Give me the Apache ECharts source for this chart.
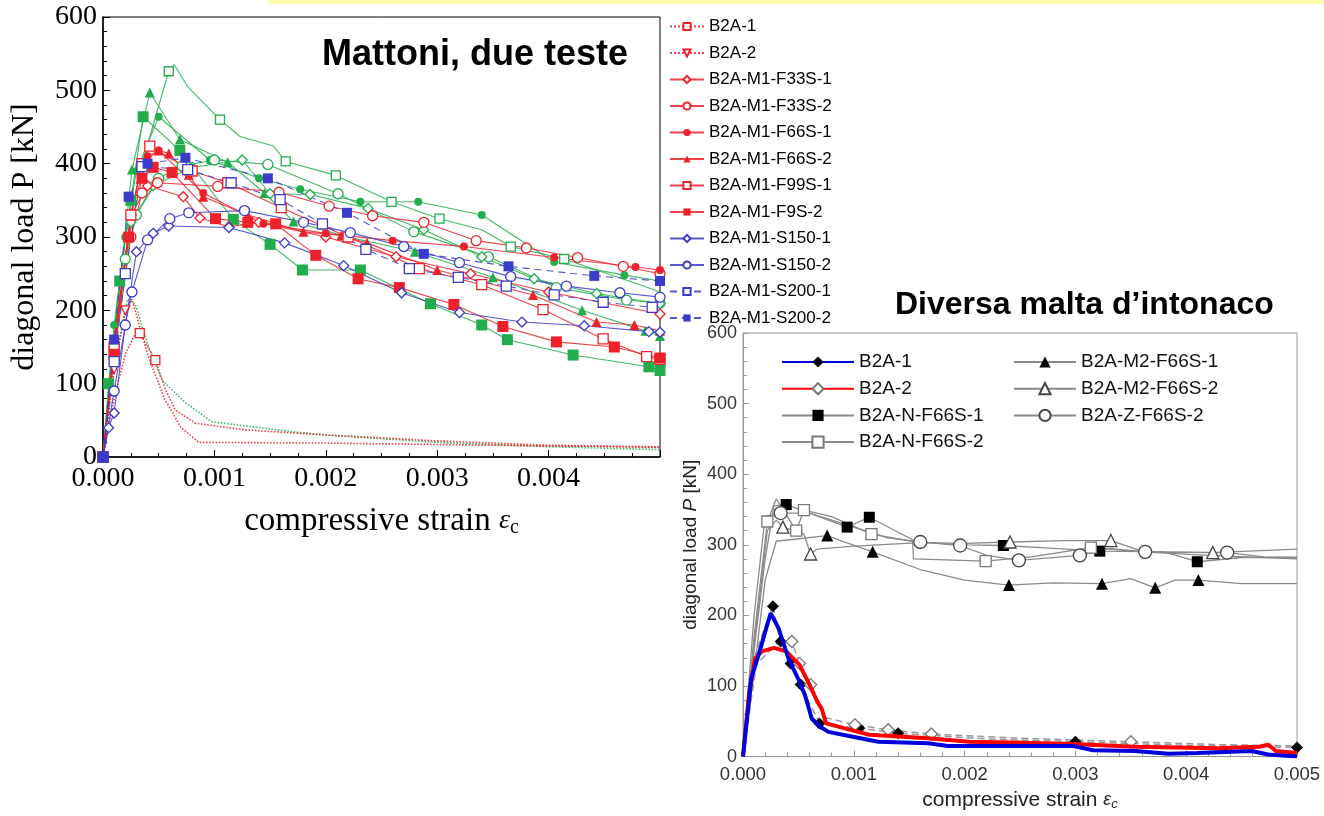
<!DOCTYPE html>
<html>
<head>
<meta charset="utf-8">
<script src="https://cdn.jsdelivr.net/npm/echarts@6/dist/echarts.min.js"></script>
<style>
html, body { margin: 0; background: #fff; }
#chart { width: 1324px; height: 816px; }
</style>
</head>
<body>
<div id="chart"></div>
<script>
// strain is stored in units of 0.001, load in kN
var xTicks = [0, 1, 2, 3, 4, 5];

// left chart: "Mattoni, due teste"
var b2a1 = [[0,0],[0.1,80],[0.2,140],[0.28,165],[0.33,169],[0.47,132],[0.56,92],[0.65,64],[0.83,46],[1.28,37],[2,30],[3,22],[4,16],[5,13]];
var b2a2 = [[0,0],[0.1,120],[0.2,200],[0.26,215],[0.4,140],[0.55,80],[0.7,40],[0.86,20],[2,19],[3,17],[4,15],[5,14]];
var greenDot = [[0,0],[0.1,120],[0.22,215],[0.29,208],[0.41,150],[0.53,105],[0.74,74],[0.98,48],[1.73,34],[2,30],[3,20],[4,14],[5,10]];
var f33s1 = [[0,0],[0.1,150],[0.25,330],[0.4,370],[0.72,355],[0.87,326],[1.13,314],[1.4,320],[2,300],[2.63,273],[3.3,250],[4,225],[5,195]];
var f33s2 = [[0,0],[0.1,140],[0.25,300],[0.35,360],[0.49,374],[1.03,369],[1.58,361],[2.03,342],[2.42,329],[2.88,320],[3.35,295],[3.8,285],[4.26,272],[4.67,260],[5,250]];
var f66s1 = [[0,0],[0.1,160],[0.25,330],[0.4,410],[0.5,418],[0.9,360],[1.44,318],[2,305],[2.6,295],[3.24,287],[4.05,272],[4.78,259],[5,255]];
var f66s2 = [[0,0],[0.1,150],[0.25,330],[0.35,400],[0.5,418],[0.59,414],[0.77,385],[0.9,355],[1.3,330],[1.8,307],[2.14,302],[2.37,292],[3,255],[3.86,221],[4.43,184],[4.77,180],[5,172]];
var f99s1 = [[0,0],[0.1,150],[0.25,330],[0.35,400],[0.42,424],[0.8,390],[1.12,374],[1.6,340],[2.2,300],[2.84,257],[3.4,235],[3.95,201],[4.49,161],[4.88,137],[5,133]];
var f9s2 = [[0,0],[0.1,140],[0.23,300],[0.35,380],[0.45,395],[0.62,388],[1.01,325],[1.3,320],[1.55,318],[1.91,275],[2.29,243],[2.66,231],[3.15,208],[3.59,178],[4.07,157],[4.59,150],[5,135]];
var s150a = [[0,0],[0.05,40],[0.1,60],[0.2,180],[0.3,280],[0.45,305],[0.59,315],[1.13,313],[1.63,292],[2.16,261],[2.68,224],[3.2,197],[3.76,184],[4.32,179],[4.9,171],[5,170]];
var s150b = [[0,0],[0.1,90],[0.2,180],[0.26,225],[0.4,296],[0.6,325],[0.77,333],[1.27,336],[1.8,320],[2.22,306],[2.7,287],[3.2,265],[3.66,246],[4.16,233],[4.64,224],[5,218]];
var s200a = [[0,0],[0.1,130],[0.2,250],[0.35,396],[0.76,392],[1.15,374],[1.59,351],[1.97,318],[2.36,283],[2.75,257],[3.19,245],[3.62,233],[4.05,221],[4.49,211],[4.93,204]];
var s200b = [[0,0],[0.1,160],[0.23,355],[0.4,400],[0.74,408],[1.48,380],[2.19,333],[2.88,277],[3.64,260],[4.41,247],[5,240]];
var g1 = [[0,0],[0.1,150],[0.2,300],[0.36,405],[0.59,526],[0.64,535],[0.76,505],[1.05,460],[1.23,437],[1.53,424],[1.64,403],[2.09,384],[2.59,348],[3.02,325],[3.4,310],[3.66,287],[4.14,270],[4.84,234],[5,225]];
var g2 = [[0,0],[0.1,160],[0.26,392],[0.42,497],[0.69,433],[1.12,402],[1.45,360],[1.71,321],[2.2,300],[2.8,280],[3.5,245],[4.3,200],[4.87,172],[5,165]];
var g3 = [[0,0],[0.05,100],[0.15,240],[0.25,350],[0.36,464],[0.69,418],[1.17,324],[1.5,290],[1.79,255],[2.31,255],[2.94,209],[3.4,180],[3.63,160],[4.22,139],[4.9,123],[5,118]];
var g4 = [[0,0],[0.1,180],[0.2,300],[0.3,390],[0.5,464],[0.96,405],[1.4,380],[1.77,365],[2.31,348],[2.83,348],[3.4,330],[4.05,266],[4.68,248],[5,240]];
var g5 = [[0,0],[0.1,150],[0.2,270],[0.3,330],[0.5,380],[0.71,397],[1,405],[1.48,399],[2.11,359],[2.79,307],[3.46,273],[4.07,231],[4.7,214],[5,210]];
var g6 = [[0,0],[0.1,150],[0.25,320],[0.45,370],[0.8,395],[1.25,405],[1.5,359],[1.86,358],[2.38,339],[2.88,310],[3.4,273],[3.87,243],[4.43,223],[5,209]];

// right chart: "Diversa malta d'intonaco"
var rB2a1 = [[0,0],[0.075,111],[0.15,149],[0.21,182],[0.25,203],[0.32,182],[0.41,139],[0.51,106],[0.56,87],[0.62,54],[0.69,43],[0.77,35],[0.99,28],[1.22,21],[1.67,19],[1.85,15],[2.98,15],[3.16,9],[3.54,8],[3.84,4],[4.1,5],[4.59,8],[4.74,3],[5,0]];
var rB2a2 = [[0,0],[0.056,92],[0.11,139],[0.17,149],[0.28,154],[0.39,149],[0.51,130],[0.6,102],[0.67,78],[0.71,68],[0.75,47],[0.92,40],[1.14,31],[1.67,26],[2.04,21],[2.42,20],[2.98,18],[3.54,14],[4.29,12],[4.66,14],[4.74,17],[4.81,8],[5,5]];
var rB2a1Ref = [[0,0],[0.12,150],[0.27,213],[0.34,163],[0.43,132],[0.52,102],[0.69,47],[1.05,40],[1.4,33],[2.2,25],[3,21],[4,16],[5,13]];
var rB2a2Ref = [[0,0],[0.12,130],[0.3,160],[0.44,163],[0.51,132],[0.61,102],[0.75,55],[1.01,45],[1.31,38],[1.7,32],[2.5,26],[3.5,21],[4.3,17],[5,15]];
var nF1 = [[0,0],[0.1,150],[0.2,280],[0.28,355],[0.39,357],[0.6,345],[0.94,325],[1.14,339],[1.57,304],[2,300],[2.35,299],[2.8,295],[3.22,291],[3.8,290],[4.1,276],[4.5,282],[5,282]];
var nF2 = [[0,0],[0.1,170],[0.22,333],[0.3,365],[0.48,320],[0.55,349],[0.8,340],[1.16,315],[1.53,305],[1.54,280],[2.19,277],[2.6,283],[3.14,296],[3.6,290],[4.2,285],[5,280]];
var m2F1 = [[0,0],[0.1,120],[0.2,250],[0.3,305],[0.76,313],[0.9,305],[1.17,290],[1.6,265],[2,250],[2.4,243],[2.8,246],[3.24,245],[3.5,252],[3.72,239],[3.9,250],[4.11,250],[4.5,245],[5,245]];
var m2F2 = [[0,0],[0.1,160],[0.22,320],[0.3,335],[0.36,325],[0.55,315],[0.61,287],[0.67,294],[1,298],[1.6,303],[2,302],[2.41,304],[2.9,306],[3.32,306],[3.62,290],[4.24,289],[5,294]];
var zF2 = [[0,0],[0.1,200],[0.2,340],[0.34,345],[0.6,345],[1,325],[1.3,310],[1.6,304],[1.96,299],[2.2,285],[2.49,278],[3.04,285],[3.3,295],[3.63,290],[4.37,289],[4.7,283],[5,282]];

var leftNames = ['B2A-1', 'B2A-2', 'B2A-M1-F33S-1', 'B2A-M1-F33S-2', 'B2A-M1-F66S-1', 'B2A-M1-F66S-2',
  'B2A-M1-F99S-1', 'B2A-M1-F9S-2', 'B2A-M1-S150-1', 'B2A-M1-S150-2', 'B2A-M1-S200-1', 'B2A-M1-S200-2'];
var rightNames1 = ['B2A-1', 'B2A-2', 'B2A-N-F66S-1', 'B2A-N-F66S-2'];
var rightNames2 = ['B2A-M2-F66S-1', 'B2A-M2-F66S-2', 'B2A-Z-F66S-2'];

// right-chart series get a prefix so they do not clash with the left legend names
var RP = 'dx:';
function rn(n) { return RP + n; }
function stripRP(n) { return n.indexOf(RP) === 0 ? n.slice(RP.length) : n; }

var RED = '#ee2029', BLUE = '#3b3bcc', GREEN = '#22ad4c', GREY = '#8a8a8a';
var SERIF = '"Liberation Serif", "Times New Roman", serif';
var SANS = '"Liberation Sans", Arial, sans-serif';

function mk(data, o) {
  var mc = o.mc || o.c;
  return {
    name: o.name, type: 'line', data: data,
    xAxisIndex: o.g, yAxisIndex: o.g,
    symbol: o.sym, symbolRotate: o.rot || 0,
    symbolSize: o.marks ? function (v, p) { return o.marks.indexOf(p.dataIndex) >= 0 ? o.size : 0; } : o.size,
    itemStyle: o.hollow ? { color: '#fff', borderColor: mc, borderWidth: 1.3 } : { color: mc, borderWidth: 0 },
    lineStyle: { color: o.c, width: o.w || 1.1, type: o.dash || 'solid', opacity: o.op || 0.85 },
    emphasis: { disabled: true },
    z: o.z || 2
  };
}

var series = [
  mk(g1, { g: 0, c: GREEN, sym: 'rect', hollow: true, size: 9, marks: [4, 7, 10, 11, 12, 13, 15, 16] }),
  mk(g2, { g: 0, c: GREEN, sym: 'triangle', size: 10 }),
  mk(g3, { g: 0, c: GREEN, sym: 'rect', size: 11 }),
  mk(g4, { g: 0, c: GREEN, sym: 'circle', size: 8 }),
  mk(g5, { g: 0, c: GREEN, sym: 'circle', hollow: true, size: 10 }),
  mk(g6, { g: 0, c: GREEN, sym: 'diamond', hollow: true, size: 10 }),
  mk(greenDot, { g: 0, c: GREEN, sym: 'none', dash: 'dotted', w: 1.6, size: 0 }),
  mk(b2a1, { g: 0, name: leftNames[0], c: RED, sym: 'rect', hollow: true, size: 9, dash: 'dotted', w: 1.6, marks: [4, 5] }),
  mk(b2a2, { g: 0, name: leftNames[1], c: RED, sym: 'triangle', rot: 180, hollow: true, size: 9, dash: 'dotted', w: 1.6, marks: [1, 2] }),
  mk(f33s1, { g: 0, name: leftNames[2], c: RED, sym: 'diamond', hollow: true, size: 10 }),
  mk(f33s2, { g: 0, name: leftNames[3], c: RED, sym: 'circle', hollow: true, size: 10 }),
  mk(f66s1, { g: 0, name: leftNames[4], c: RED, sym: 'circle', size: 8 }),
  mk(f66s2, { g: 0, name: leftNames[5], c: RED, sym: 'triangle', size: 10 }),
  mk(f99s1, { g: 0, name: leftNames[6], c: RED, sym: 'rect', hollow: true, size: 10 }),
  mk(f9s2, { g: 0, name: leftNames[7], c: RED, sym: 'rect', size: 11 }),
  mk(s150a, { g: 0, name: leftNames[8], c: BLUE, sym: 'diamond', hollow: true, size: 10 }),
  mk(s150b, { g: 0, name: leftNames[9], c: BLUE, sym: 'circle', hollow: true, size: 10 }),
  mk(s200a, { g: 0, name: leftNames[10], c: BLUE, sym: 'rect', hollow: true, size: 10, dash: [7, 5] }),
  mk(s200b, { g: 0, name: leftNames[11], c: BLUE, sym: 'rect', size: 10, dash: [7, 5] }),

  mk(nF1, { g: 1, name: rn(rightNames1[2]), c: GREY, mc: '#000', sym: 'rect', size: 11, w: 1.3, op: 1, marks: [4, 6, 7, 10, 12, 14] }),
  mk(nF2, { g: 1, name: rn(rightNames1[3]), c: GREY, mc: '#777', sym: 'rect', hollow: true, size: 11, w: 1.3, op: 1, marks: [2, 4, 5, 7, 10, 12] }),
  mk(m2F1, { g: 1, name: rn(rightNames2[0]), c: GREY, mc: '#000', sym: 'triangle', size: 12, w: 1.3, op: 1, marks: [4, 6, 9, 11, 13, 15] }),
  mk(m2F2, { g: 1, name: rn(rightNames2[1]), c: GREY, mc: '#444', sym: 'triangle', hollow: true, size: 12, w: 1.3, op: 1, marks: [4, 6, 11, 13, 15] }),
  mk(zF2, { g: 1, name: rn(rightNames2[2]), c: GREY, mc: '#444', sym: 'circle', hollow: true, size: 13, w: 1.3, op: 1, marks: [3, 7, 8, 10, 11, 13, 14] }),
  mk(rB2a1Ref, { g: 1, c: '#999', mc: '#000', sym: 'diamond', size: 12, dash: [7, 4], w: 1.5, op: 1, marks: [2, 3, 4, 5, 6, 7, 8, 10, 12] }),
  mk(rB2a2Ref, { g: 1, c: '#999', mc: '#777', sym: 'diamond', hollow: true, size: 12, dash: [7, 4], w: 1.5, op: 1, marks: [3, 4, 5, 7, 8, 9, 11] }),
  mk(rB2a2, { g: 1, name: rn(rightNames1[1]), c: '#ff0000', mc: '#777', sym: 'diamond', hollow: true, size: 12, w: 4, op: 1, marks: [], z: 4 }),
  mk(rB2a1, { g: 1, name: rn(rightNames1[0]), c: '#0000dd', mc: '#000', sym: 'diamond', size: 12, w: 4, op: 1, marks: [], z: 5 })
];

function xFmt(showLast) {
  return function (v) { return (!showLast && v >= 5) ? '' : (v / 1000).toFixed(3); };
}

var chart = echarts.init(document.getElementById('chart'), null, { renderer: 'canvas' });
chart.setOption({
  animation: false,
  backgroundColor: '#fff',
  title: [
    { text: 'Mattoni, due teste', left: 317, top: 32, textStyle: { fontFamily: SANS, fontWeight: 'bold', fontSize: 36, color: '#000' } },
    { text: 'Diversa malta d\u2019intonaco', left: 890, top: 284, textStyle: { fontFamily: SANS, fontWeight: 'bold', fontSize: 32, color: '#000' } }
  ],
  graphic: [
    { type: 'rect', left: 268, top: 0, shape: { width: 1056, height: 4 }, style: { fill: '#fffbb0' }, z: -1 }
  ],
  legend: [
    {
      data: leftNames, orient: 'vertical', left: 664, top: 12, itemWidth: 34, itemHeight: 9, itemGap: 7.5,
      selectedMode: false, textStyle: { fontFamily: SANS, fontSize: 17, color: '#000', lineHeight: 19 }
    },
    {
      data: rightNames1.map(rn), formatter: stripRP, orient: 'vertical', left: 776, top: 347, itemWidth: 72, itemHeight: 14, itemGap: 6.7,
      selectedMode: false, textStyle: { fontFamily: SANS, fontSize: 19, color: '#111', lineHeight: 20 }
    },
    {
      data: rightNames2.map(rn), formatter: stripRP, orient: 'vertical', left: 1008, top: 347, itemWidth: 62, itemHeight: 14, itemGap: 6.7,
      selectedMode: false, textStyle: { fontFamily: SANS, fontSize: 19, color: '#111', lineHeight: 20 }
    }
  ],
  grid: [
    { left: 103, top: 17, width: 557, height: 440, show: true, borderColor: '#000', borderWidth: 1 },
    { left: 743, top: 333, width: 554, height: 426, show: true, borderColor: '#999', borderWidth: 1 }
  ],
  xAxis: [
    {
      gridIndex: 0, type: 'value', min: xTicks[0], max: xTicks[xTicks.length - 1], interval: 1,
      axisLine: { lineStyle: { color: '#000', width: 1.5 } },
      axisTick: { inside: true, length: 7, lineStyle: { color: '#000' } },
      minorTick: { show: true, splitNumber: 4, length: 4, lineStyle: { color: '#000' } },
      splitLine: { show: false },
      axisLabel: { formatter: xFmt(false), fontFamily: SERIF, fontSize: 28, color: '#000', margin: 8 },
      name: '{a|compressive strain }{e|\u03b5}{s|c}', nameLocation: 'middle', nameGap: 47,
      nameTextStyle: { rich: {
        a: { fontFamily: SERIF, fontSize: 33, color: '#000' },
        e: { fontFamily: SERIF, fontSize: 28, fontStyle: 'italic', color: '#000' },
        s: { fontFamily: SERIF, fontSize: 20, color: '#000', padding: [14, 0, 0, 0] }
      } }
    },
    {
      gridIndex: 1, type: 'value', min: xTicks[0], max: xTicks[xTicks.length - 1], interval: 1,
      axisLine: { lineStyle: { color: '#999', width: 1 } },
      axisTick: { inside: true, length: 6, lineStyle: { color: '#999' } },
      minorTick: { show: true, splitNumber: 5, length: 4, lineStyle: { color: '#999' } },
      splitLine: { show: false },
      axisLabel: { formatter: xFmt(true), fontFamily: SANS, fontSize: 18.5, color: '#333', margin: 9 },
      name: '{a|compressive strain }{e|\u03b5}{s|c}', nameLocation: 'middle', nameGap: 31,
      nameTextStyle: { rich: {
        a: { fontFamily: SANS, fontSize: 21, color: '#222' },
        e: { fontFamily: SANS, fontSize: 18, fontStyle: 'italic', color: '#222' },
        s: { fontFamily: SANS, fontSize: 13, fontStyle: 'italic', color: '#222', padding: [9, 0, 0, 0] }
      } }
    }
  ],
  yAxis: [
    {
      gridIndex: 0, type: 'value', min: 0, max: 600, interval: 100,
      axisLine: { show: true, lineStyle: { color: '#000', width: 1.5 } },
      axisTick: { show: true, inside: true, length: 7, lineStyle: { color: '#000' } },
      minorTick: { show: true, splitNumber: 5, length: 4, lineStyle: { color: '#000' } },
      splitLine: { show: false },
      axisLabel: { fontFamily: SERIF, fontSize: 28, color: '#000', margin: 6 },
      name: 'diagonal load P [kN]', nameLocation: 'middle', nameGap: 62,
      nameTextStyle: { fontFamily: SERIF, fontSize: 32, color: '#000' }
    },
    {
      gridIndex: 1, type: 'value', min: 0, max: 600, interval: 100,
      axisLine: { show: true, lineStyle: { color: '#999', width: 1 } },
      axisTick: { show: true, inside: true, length: 6, lineStyle: { color: '#999' } },
      minorTick: { show: true, splitNumber: 5, length: 4, lineStyle: { color: '#999' } },
      splitLine: { show: false },
      axisLabel: { fontFamily: SANS, fontSize: 18, color: '#333', margin: 6 },
      name: '{a|diagonal load }{p|P}{a| [kN]}', nameLocation: 'middle', nameGap: 43,
      nameTextStyle: { rich: {
        a: { fontFamily: SANS, fontSize: 19, color: '#222' },
        p: { fontFamily: SANS, fontSize: 19, fontStyle: 'italic', color: '#222' }
      } }
    }
  ],
  series: series
});
</script>
</body>
</html>
